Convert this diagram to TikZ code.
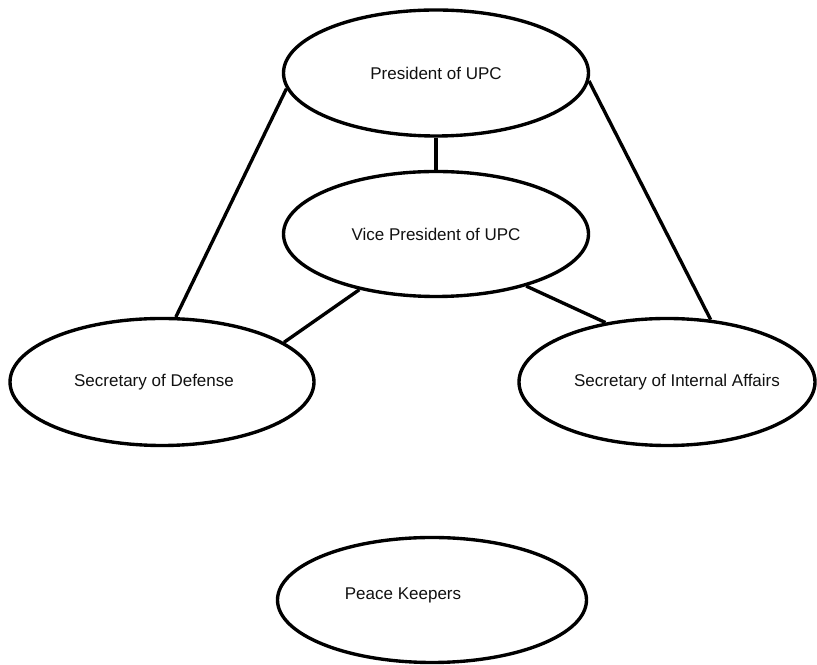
\documentclass[tikz,border=0pt]{standalone}
\usepackage{fontspec}
\setmainfont{Liberation Sans}
\usepackage{xcolor}
\usetikzlibrary{shapes.geometric}
\definecolor{ink}{HTML}{000000}
\definecolor{txt}{HTML}{111111}
\tikzset{
  role/.style={ellipse, draw=ink, line width=2.4pt, fill=white, inner sep=0pt,
    text=txt, font=\fontsize{12.1}{14}\selectfont},
  link/.style={draw=ink, line width=2.4pt},
  lab/.style={text=txt, font=\fontsize{12.1}{14}\selectfont, inner sep=0pt},
}

\begin{document}
\begin{tikzpicture}
  \useasboundingbox (0,0) rectangle (20.425,16.625);

  % officers
  \node[role, minimum width=7.625cm, minimum height=3.15cm] (pres) at (10.9,14.8) {President of UPC};
  \node[role, minimum width=7.625cm, minimum height=3.125cm] (vp) at (10.9,10.775) {Vice President of UPC};
  \node[role, minimum width=7.6cm, minimum height=3.175cm,
    label={[lab, xshift=-0.2cm]center:Secretary of Defense}] (def) at (4.05,7.075) {};
  \node[role, minimum width=7.4cm, minimum height=3.175cm,
    label={[lab, xshift=0.25cm]center:Secretary of Internal Affairs}] (int) at (16.675,7.075) {};
  \node[role, minimum width=7.725cm, minimum height=3.125cm,
    label={[lab, xshift=-0.725cm, yshift=0.125cm]center:Peace Keepers}] (peace) at (10.8,1.625) {};

  % links
  \draw[link] (pres.186.5) -- (def.78);
  \draw[link] (pres.357) -- (int.55);
  \draw[link] (pres.south) -- (vp.north);
  \draw[link] (vp.216) -- (def.18);
  \draw[link] (vp.330) -- (int.136);
\end{tikzpicture}
\end{document}
